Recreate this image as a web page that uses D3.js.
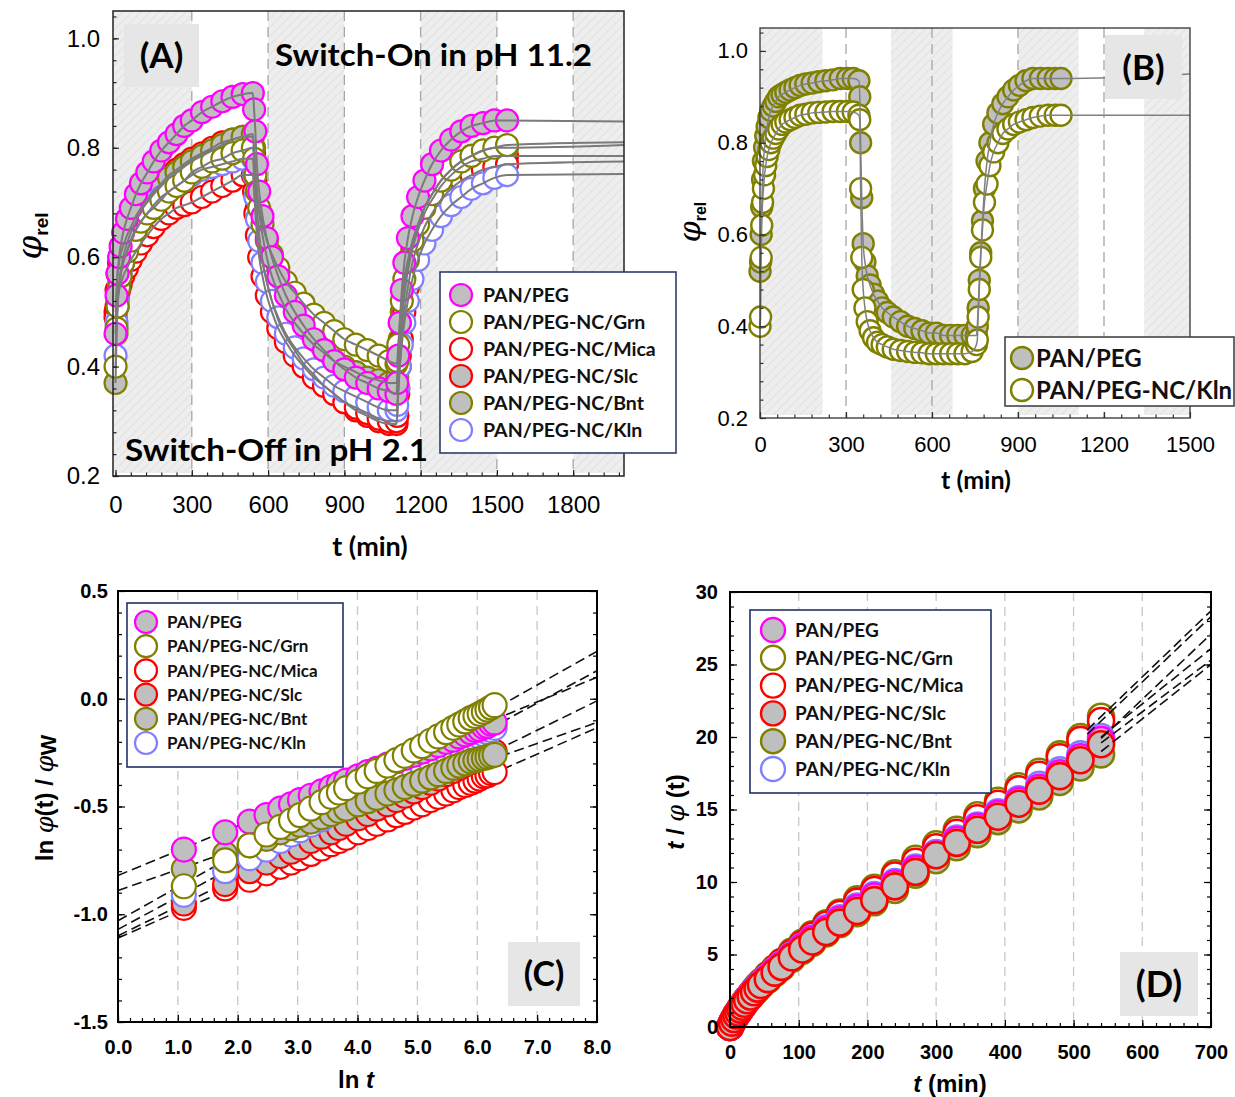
<!DOCTYPE html>
<html>
<head>
<meta charset="utf-8">
<script src="https://cdn.jsdelivr.net/npm/d3@7"></script>
<style>
  body { margin: 0; background: #fff; }
  svg { display: block; }
</style>
</head>
<body>
<script>
// ---------------- data ----------------------------------------------------------
var seriesNames = ["PAN/PEG", "PAN/PEG-NC/Grn", "PAN/PEG-NC/Mica", "PAN/PEG-NC/Slc", "PAN/PEG-NC/Bnt", "PAN/PEG-NC/Kln"];

// (A) relative swelling, on (pH 11.2) -> off (pH 2.1) -> on again, t in min
var tA = [0,4,8,14,20,30,45,60,80,100,125,150,180,210,240,270,300,340,380,420,460,500,540,
  545,550,556,565,578,595,615,640,670,705,740,780,820,860,900,945,990,1035,1075,1105,
  1108,1112,1118,1126,1136,1150,1168,1190,1215,1245,1280,1320,1360,1400,1445,1490,1540];
var phiA_PEG = [0.46,0.53,0.57,0.60,0.62,0.645,0.67,0.69,0.715,0.735,0.755,0.775,0.795,0.81,0.825,0.84,0.85,0.865,0.875,0.885,0.893,0.898,0.90,
  0.87,0.83,0.77,0.72,0.675,0.635,0.60,0.565,0.53,0.50,0.475,0.45,0.43,0.41,0.395,0.38,0.37,0.36,0.355,0.35,
  0.37,0.42,0.48,0.54,0.59,0.635,0.675,0.71,0.74,0.77,0.795,0.815,0.83,0.84,0.845,0.85,0.85];
var phiA_Grn = [0.40,0.47,0.51,0.545,0.565,0.59,0.61,0.63,0.65,0.665,0.68,0.69,0.705,0.72,0.73,0.74,0.755,0.765,0.775,0.78,0.79,0.795,0.80,
  0.78,0.75,0.72,0.69,0.66,0.63,0.605,0.58,0.555,0.535,0.515,0.495,0.48,0.465,0.45,0.44,0.43,0.42,0.41,0.405,
  0.41,0.44,0.48,0.52,0.56,0.595,0.63,0.66,0.69,0.715,0.74,0.76,0.775,0.785,0.795,0.80,0.805];
var phiA_Mica = [0.49,0.51,0.525,0.54,0.55,0.565,0.58,0.595,0.61,0.625,0.64,0.655,0.67,0.68,0.69,0.695,0.70,0.71,0.72,0.73,0.74,0.75,0.75,
  0.72,0.68,0.64,0.60,0.565,0.53,0.50,0.47,0.445,0.42,0.40,0.38,0.365,0.35,0.335,0.325,0.315,0.305,0.30,0.30,
  0.31,0.35,0.40,0.45,0.50,0.545,0.59,0.625,0.655,0.68,0.705,0.725,0.74,0.75,0.76,0.765,0.77];
var phiA_Slc = [0.50,0.54,0.57,0.59,0.605,0.62,0.64,0.655,0.675,0.69,0.705,0.72,0.735,0.75,0.76,0.77,0.78,0.79,0.80,0.81,0.815,0.82,0.82,
  0.79,0.74,0.69,0.64,0.595,0.555,0.52,0.485,0.455,0.43,0.405,0.385,0.365,0.35,0.335,0.32,0.31,0.30,0.295,0.295,
  0.31,0.36,0.42,0.48,0.53,0.575,0.615,0.65,0.68,0.705,0.73,0.75,0.765,0.775,0.78,0.785,0.785];
var phiA_Bnt = [0.37,0.46,0.51,0.55,0.575,0.60,0.625,0.645,0.665,0.685,0.70,0.715,0.73,0.745,0.755,0.765,0.775,0.785,0.795,0.805,0.815,0.82,0.825,
  0.80,0.76,0.72,0.68,0.64,0.60,0.565,0.535,0.505,0.48,0.46,0.44,0.425,0.41,0.40,0.39,0.38,0.375,0.37,0.37,
  0.38,0.41,0.45,0.50,0.545,0.585,0.625,0.66,0.69,0.715,0.74,0.76,0.775,0.785,0.795,0.80,0.80];
var phiA_Kln = [0.42,0.48,0.52,0.55,0.57,0.59,0.61,0.63,0.65,0.665,0.68,0.695,0.71,0.72,0.73,0.74,0.75,0.76,0.765,0.77,0.775,0.78,0.78,
  0.75,0.71,0.67,0.63,0.59,0.555,0.52,0.49,0.46,0.435,0.415,0.395,0.38,0.365,0.355,0.345,0.335,0.325,0.32,0.32,
  0.33,0.36,0.40,0.44,0.48,0.52,0.56,0.595,0.625,0.65,0.675,0.695,0.71,0.725,0.735,0.745,0.75];
var fitEndA = [0.848, 0.81, 0.775, 0.785, 0.805, 0.752];   // fitted plateau at t = 2000
var bandsA = [[-10, 300], [600, 900], [1200, 1500], [1800, 2000]];

// (B) two cycles, PAN/PEG and PAN/PEG-NC/Kln
var tB = [0,2,4,6,9,12,16,20,25,31,38,46,55,65,77,90,105,122,140,160,182,205,230,255,280,305,325,345,
  348,351,355,360,366,374,384,396,410,426,444,465,490,515,540,565,590,615,640,665,690,715,740,755,
  758,761,765,770,776,783,792,802,815,830,847,865,885,905,928,952,978,1005,1030,1050];
var phiB_PEG = [0.52,0.54,0.60,0.66,0.72,0.76,0.79,0.815,0.835,0.855,0.87,0.88,0.89,0.90,0.905,0.91,0.915,0.92,0.925,0.928,0.93,0.933,0.935,0.937,0.94,0.94,0.94,0.935,
  0.90,0.80,0.68,0.58,0.54,0.51,0.49,0.47,0.455,0.44,0.43,0.42,0.41,0.40,0.395,0.39,0.385,0.385,0.38,0.38,0.38,0.38,0.38,0.38,
  0.40,0.44,0.50,0.56,0.63,0.70,0.76,0.80,0.84,0.865,0.885,0.90,0.915,0.925,0.935,0.94,0.94,0.94,0.94,0.94];
var phiB_Kln = [0.40,0.42,0.55,0.62,0.67,0.70,0.73,0.75,0.77,0.785,0.80,0.81,0.82,0.83,0.84,0.845,0.85,0.855,0.86,0.862,0.865,0.866,0.867,0.868,0.868,0.868,0.867,0.86,
  0.85,0.70,0.55,0.48,0.44,0.41,0.39,0.375,0.365,0.36,0.355,0.35,0.347,0.345,0.343,0.342,0.34,0.34,0.34,0.34,0.34,0.34,0.345,0.36,
  0.37,0.42,0.48,0.55,0.61,0.67,0.71,0.75,0.78,0.80,0.82,0.83,0.84,0.845,0.85,0.855,0.858,0.86,0.86,0.86];
var fitEndB = [0.95, 0.86];   // fitted plateau at t = 1500
var bandsB = [[0, 218], [457, 672], [900, 1112], [1340, 1500]];

// (C) ln(phi(t)/phiW) vs ln t
var lnT = [1.10,1.79,2.20,2.48,2.71,2.89,3.04,3.22,3.40,3.56,3.69,3.81,4.01,4.17,4.32,4.50,4.65,4.79,4.94,5.08,5.22,5.35,5.48,5.60,5.70,5.80,5.89,5.97,6.04,6.11,6.17,6.23,6.29];
var lnC_PEG = [-0.70,-0.62,-0.57,-0.54,-0.51,-0.49,-0.47,-0.45,-0.43,-0.41,-0.395,-0.38,-0.36,-0.34,-0.325,-0.305,-0.29,-0.275,-0.26,-0.245,-0.23,-0.215,-0.20,-0.19,-0.175,-0.165,-0.155,-0.145,-0.14,-0.13,-0.125,-0.115,-0.11];
var lnC_Grn = [-0.87,-0.75,-0.68,-0.63,-0.595,-0.565,-0.54,-0.51,-0.48,-0.455,-0.435,-0.415,-0.385,-0.36,-0.335,-0.31,-0.285,-0.265,-0.24,-0.22,-0.195,-0.175,-0.155,-0.135,-0.12,-0.105,-0.09,-0.08,-0.07,-0.06,-0.05,-0.04,-0.03];
var lnC_Mica = [-0.97,-0.88,-0.84,-0.81,-0.78,-0.76,-0.74,-0.72,-0.695,-0.675,-0.66,-0.645,-0.62,-0.60,-0.58,-0.56,-0.54,-0.525,-0.505,-0.49,-0.47,-0.455,-0.44,-0.425,-0.41,-0.40,-0.39,-0.38,-0.37,-0.36,-0.355,-0.345,-0.34];
var lnC_Slc = [-0.95,-0.86,-0.80,-0.76,-0.73,-0.71,-0.69,-0.66,-0.64,-0.62,-0.60,-0.58,-0.555,-0.535,-0.51,-0.49,-0.47,-0.45,-0.43,-0.41,-0.39,-0.37,-0.35,-0.335,-0.32,-0.305,-0.295,-0.285,-0.275,-0.265,-0.26,-0.25,-0.245];
var lnC_Bnt = [-0.79,-0.72,-0.68,-0.65,-0.62,-0.60,-0.585,-0.57,-0.55,-0.535,-0.52,-0.51,-0.49,-0.475,-0.46,-0.44,-0.425,-0.41,-0.395,-0.38,-0.365,-0.35,-0.335,-0.32,-0.31,-0.30,-0.29,-0.285,-0.28,-0.275,-0.27,-0.265,-0.26];
var lnC_Kln = [-0.91,-0.80,-0.74,-0.70,-0.66,-0.63,-0.61,-0.585,-0.56,-0.535,-0.515,-0.50,-0.47,-0.445,-0.42,-0.395,-0.37,-0.35,-0.33,-0.31,-0.29,-0.27,-0.25,-0.235,-0.22,-0.205,-0.195,-0.185,-0.175,-0.165,-0.155,-0.145,-0.135];
var fitC_at0 = [-0.82, -1.03, -1.11, -1.10, -0.89, -1.07];   // dashed fits at ln t = 0
var fitC_at8 = [0.10, 0.22, -0.135, -0.01, -0.11, 0.13];     // ... and at ln t = 8

// (D) t/phi(t) vs t
var tD = [0,3,6,9,12,15,18,21,25,30,35,40,45,55,65,75,90,105,120,140,160,185,210,240,270,300,330,360,390,420,450,480,510,540];
var tpD_PEG = [0,0.3,0.55,0.8,1.0,1.2,1.4,1.6,1.85,2.15,2.45,2.7,2.95,3.4,3.85,4.25,4.9,5.5,6.05,6.7,7.4,8.2,9.0,9.9,10.9,11.9,12.9,13.8,14.7,15.6,16.5,17.5,18.6,19.8];
var tpD_Grn = [0,0.3,0.6,0.85,1.05,1.3,1.5,1.7,1.95,2.25,2.55,2.85,3.1,3.6,4.05,4.5,5.2,5.8,6.4,7.15,7.9,8.8,9.6,10.6,11.6,12.6,13.6,14.6,15.6,16.6,17.6,18.8,20.0,21.4];
var tpD_Mica = [0,0.3,0.6,0.85,1.05,1.3,1.5,1.7,1.95,2.25,2.55,2.8,3.05,3.55,4.0,4.45,5.1,5.7,6.3,7.05,7.8,8.65,9.45,10.45,11.4,12.4,13.4,14.4,15.4,16.4,17.4,18.6,19.8,21.1];
var tpD_Slc = [0,0.3,0.55,0.8,1.0,1.2,1.4,1.6,1.85,2.1,2.4,2.65,2.9,3.3,3.75,4.15,4.8,5.35,5.9,6.55,7.2,8.0,8.75,9.7,10.7,11.85,12.7,13.6,14.5,15.4,16.3,17.3,18.4,19.5];
var tpD_Bnt = [0,0.3,0.55,0.8,1.0,1.2,1.4,1.6,1.85,2.1,2.35,2.6,2.85,3.25,3.7,4.1,4.7,5.25,5.8,6.45,7.1,7.85,8.6,9.45,10.5,11.5,12.4,13.3,14.2,15.0,15.9,16.9,17.9,18.8];
var tpD_Kln = [0,0.3,0.55,0.8,1.0,1.25,1.45,1.65,1.9,2.2,2.5,2.75,3.0,3.45,3.9,4.3,4.95,5.55,6.1,6.8,7.5,8.3,9.1,10.0,11.0,12.0,13.0,13.9,14.8,15.7,16.7,17.7,18.8,20.0];
var fitD_t0 = [540, 520, 520, 540, 540, 540];          // where each dashed fit starts
var fitD_v0 = [19.9, 20.5, 20.2, 19.6, 19.0, 20.0];
var fitD_v700 = [27.1, 28.7, 28.3, 25.3, 25.0, 26.1];  // fit value at t = 700

// ---------------- styles --------------------------------------------------------
var GRAY = "#bfbfbf", OLIVE = "#808000";
var styles = {
  "PAN/PEG": { stroke: "#ff00ff", fill: GRAY },
  "PAN/PEG-NC/Grn": { stroke: OLIVE, fill: "#ffffff" },
  "PAN/PEG-NC/Mica": { stroke: "#ff0000", fill: "#ffffff" },
  "PAN/PEG-NC/Slc": { stroke: "#ff0000", fill: GRAY },
  "PAN/PEG-NC/Bnt": { stroke: OLIVE, fill: GRAY },
  "PAN/PEG-NC/Kln": { stroke: "#8080ff", fill: "#ffffff" }
};
var stylesB = [{ stroke: OLIVE, fill: GRAY }, { stroke: OLIVE, fill: "#ffffff" }];
var CAL = "Lato, 'Open Sans', sans-serif";
var ARI = "'Liberation Sans', Arial, sans-serif";

var svg = d3.select("body").append("svg").attr("width", 1235).attr("height", 1097);

// hatched light-gray band fill
var pat = svg.append("defs").append("pattern").attr("id", "hatch")
  .attr("patternUnits", "userSpaceOnUse").attr("width", 9).attr("height", 9);
pat.append("rect").attr("width", 9).attr("height", 9).attr("fill", "#eeeeee");
pat.append("path").attr("d", "M0,9 L9,0 M-2,2 L2,-2 M7,11 L11,7")
  .attr("stroke", "#e3e3e3").attr("stroke-width", 1.2);

// ---------------- helpers -------------------------------------------------------
function bands(x, y, list) {
  svg.append("g").selectAll("rect").data(list).join("rect")
    .attr("x", function(d) { return x(d[0]); })
    .attr("width", function(d) { return x(d[1]) - x(d[0]); })
    .attr("y", y.range()[1]).attr("height", y.range()[0] - y.range()[1] - 3)
    .attr("fill", "url(#hatch)");
}

function vgrid(x, y, vals, color, dash) {
  svg.append("g").selectAll("line").data(vals).join("line")
    .attr("x1", function(d) { return x(d); }).attr("x2", function(d) { return x(d); })
    .attr("y1", y.range()[1]).attr("y2", y.range()[0])
    .attr("stroke", color).attr("stroke-width", 1.3).attr("stroke-dasharray", dash);
}

function axes(x, y, o) {
  var bottom = y.range()[0], top = y.range()[1];
  var left = x.range()[0], right = x.range()[1];
  function style(g) {
    g.select(".domain").remove();
    g.selectAll("line").attr("stroke", o.color).attr("stroke-width", 1.2);
    g.selectAll("text").attr("font-family", ARI).attr("font-size", o.fs)
      .attr("font-weight", o.bold ? "bold" : "normal").attr("fill", "#000");
  }
  svg.append("g").attr("transform", "translate(0," + bottom + ")")
    .call(d3.axisBottom(x).tickValues(o.xMinor).tickSize(-o.minor).tickFormat("")).call(style);
  svg.append("g").attr("transform", "translate(0," + bottom + ")")
    .call(d3.axisBottom(x).tickValues(o.xTicks).tickSize(-o.major).tickPadding(o.xPad).tickFormat(o.xFmt)).call(style);
  svg.append("g").attr("transform", "translate(" + left + ",0)")
    .call(d3.axisLeft(y).tickValues(o.yMinor).tickSize(-o.minor).tickFormat("")).call(style);
  svg.append("g").attr("transform", "translate(" + left + ",0)")
    .call(d3.axisLeft(y).tickValues(o.yTicks).tickSize(-o.major).tickPadding(o.yPad).tickFormat(o.yFmt)).call(style);
  if (o.right) {
    svg.append("g").attr("transform", "translate(" + right + ",0)")
      .call(d3.axisRight(y).tickValues(o.yMinor).tickSize(-o.minor).tickFormat("")).call(style);
    svg.append("g").attr("transform", "translate(" + right + ",0)")
      .call(d3.axisRight(y).tickValues(o.yTicks).tickSize(-o.major).tickFormat("")).call(style);
  }
  svg.append("rect").attr("x", left).attr("y", top).attr("width", right - left).attr("height", bottom - top)
    .attr("fill", "none").attr("stroke", o.color).attr("stroke-width", o.frameW);
}

function dots(x, y, xs, ys, st, r, sw) {
  svg.append("g").selectAll("circle").data(xs.map(function(v, i) { return [v, ys[i]]; })).join("circle")
    .attr("cx", function(d) { return x(d[0]); })
    .attr("cy", function(d) { return y(d[1]); })
    .attr("r", r).attr("fill", st.fill).attr("stroke", st.stroke).attr("stroke-width", sw);
}

function fitPath(x, y, pts, color, w, dash) {
  svg.append("path").datum(pts)
    .attr("d", d3.line().x(function(d) { return x(d[0]); }).y(function(d) { return y(d[1]); }).curve(d3.curveMonotoneX))
    .attr("fill", "none").attr("stroke", color).attr("stroke-width", w)
    .attr("stroke-dasharray", dash || null);
}

function legend(o) {
  var g = svg.append("g");
  g.append("rect").attr("x", o.x).attr("y", o.y).attr("width", o.w).attr("height", o.h)
    .attr("fill", "#fff").attr("stroke", o.border).attr("stroke-width", 1.6);
  o.names.forEach(function(nm, i) {
    var cy = o.row0 + i * o.dy;
    g.append("circle").attr("cx", o.mx).attr("cy", cy).attr("r", o.r)
      .attr("fill", o.st[i].fill).attr("stroke", o.st[i].stroke).attr("stroke-width", o.sw);
    g.append("text").attr("x", o.tx).attr("y", cy).attr("dy", "0.36em").text(nm)
      .attr("font-family", CAL).attr("font-weight", "bold").attr("font-size", o.fs).attr("fill", "#111");
  });
}

function tag(label, x, y, w, h, fs) {
  svg.append("rect").attr("x", x).attr("y", y).attr("width", w).attr("height", h).attr("fill", "#e6e6e6");
  svg.append("text").attr("x", x + w / 2).attr("y", y + h / 2).attr("dy", "0.36em")
    .attr("text-anchor", "middle").attr("font-family", CAL).attr("font-weight", "bold")
    .attr("font-size", fs).text(label);
}

function phiRel(x, y, fs, sub) {
  var t = svg.append("text").attr("transform", "translate(" + x + "," + y + ") rotate(-90)")
    .attr("text-anchor", "middle");
  t.append("tspan").text("\u03C6").attr("font-family", "'DejaVu Serif', serif").attr("font-style", "italic").attr("font-size", fs);
  t.append("tspan").text("rel").attr("font-family", ARI).attr("font-weight", "bold").attr("font-size", sub).attr("dy", sub * 0.35);
}

var fmt1 = function(d) { return d.toFixed(1); };

// ================= (A) ==========================================================
var xA = d3.scaleLinear().domain([-10, 2000]).range([113, 624]);
var yA = d3.scaleLinear().domain([0.2, 1.05]).range([476, 11]);
bands(xA, yA, bandsA);
vgrid(xA, yA, [300, 600, 900, 1200, 1500, 1800], "#a6a6a6", "10,6");

var dataA = [phiA_PEG, phiA_Grn, phiA_Mica, phiA_Slc, phiA_Bnt, phiA_Kln];
[3, 4, 2, 5, 1, 0].forEach(function(i) {
  dots(xA, yA, tA, dataA[i], styles[seriesNames[i]], 11, 2.2);
});
[3, 4, 2, 5, 1, 0].forEach(function(i) {
  var pts = tA.map(function(t, k) { return [t, dataA[i][k]]; }).concat([[2000, fitEndA[i]]]);
  fitPath(xA, yA, pts, "#7a7a7a", 2);
});
axes(xA, yA, {
  xTicks: [0, 300, 600, 900, 1200, 1500, 1800], xMinor: d3.range(0, 2000, 60),
  yTicks: [0.2, 0.4, 0.6, 0.8, 1.0], yMinor: d3.range(0.2, 1.05, 0.04),
  major: 6, minor: 3.5, xPad: 20, yPad: 13, fs: 24, bold: false,
  xFmt: d3.format("d"), yFmt: fmt1, color: "#222", frameW: 1.5, right: false
});
tag("(A)", 124, 24, 75, 63, 35);
svg.append("text").attr("x", 275).attr("y", 66).attr("font-family", CAL).attr("font-weight", "bold")
  .attr("font-size", 31).attr("textLength", 317).attr("lengthAdjust", "spacingAndGlyphs").text("Switch-On in pH 11.2");
svg.append("text").attr("x", 125).attr("y", 461).attr("font-family", CAL).attr("font-weight", "bold")
  .attr("font-size", 31).attr("textLength", 303).attr("lengthAdjust", "spacingAndGlyphs").text("Switch-Off in pH 2.1");
legend({ x: 440, y: 272, w: 236, h: 181, border: "#2e3c6e", names: seriesNames,
  st: seriesNames.map(function(n) { return styles[n]; }), row0: 295, dy: 27, mx: 461, r: 11, sw: 2.2, tx: 483, fs: 19.5 });
svg.append("text").attr("x", 370).attr("y", 556).attr("text-anchor", "middle").attr("font-family", CAL)
  .attr("font-weight", "bold").attr("font-size", 27).text("t (min)");
phiRel(41, 236, 34, 19);

// ================= (B) ==========================================================
var xB = d3.scaleLinear().domain([0, 1500]).range([760, 1190]);
var yB = d3.scaleLinear().domain([0.2, 1.05]).range([418, 28]);
bands(xB, yB, bandsB);
vgrid(xB, yB, [300, 600, 900, 1200], "#a6a6a6", "10,6");
var dataB = [phiB_PEG, phiB_Kln];
dataB.forEach(function(vals, i) { dots(xB, yB, tB, vals, stylesB[i], 10.5, 2.4); });
dataB.forEach(function(vals, i) {
  var pts = tB.map(function(t, k) { return [t, vals[k]]; }).concat([[1500, fitEndB[i]]]);
  fitPath(xB, yB, pts, "#808080", 1.5);
});
axes(xB, yB, {
  xTicks: [0, 300, 600, 900, 1200, 1500], xMinor: d3.range(0, 1500, 60),
  yTicks: [0.2, 0.4, 0.6, 0.8, 1.0], yMinor: d3.range(0.2, 1.05, 0.04),
  major: 6, minor: 3.5, xPad: 18, yPad: 12, fs: 22, bold: false,
  xFmt: d3.format("d"), yFmt: fmt1, color: "#333", frameW: 1.3, right: false
});
tag("(B)", 1105, 35, 77, 64, 35);
legend({ x: 1005, y: 337, w: 229, h: 69, border: "#444", names: ["PAN/PEG", "PAN/PEG-NC/Kln"],
  st: stylesB, row0: 358, dy: 32, mx: 1022, r: 11, sw: 2.4, tx: 1036, fs: 24 });
svg.append("text").attr("x", 976).attr("y", 489).attr("text-anchor", "middle").attr("font-family", CAL)
  .attr("font-weight", "bold").attr("font-size", 25).text("t (min)");
phiRel(700, 222, 30, 16);

// ================= (C) ==========================================================
var xC = d3.scaleLinear().domain([0, 8]).range([118, 597]);
var yC = d3.scaleLinear().domain([-1.5, 0.5]).range([1022, 591]);
vgrid(xC, yC, [1, 2, 3, 4, 5, 6, 7], "#c8c8c8", "9,6");
var dataC = [lnC_PEG, lnC_Grn, lnC_Mica, lnC_Slc, lnC_Bnt, lnC_Kln];
dataC.forEach(function(vals, i) {
  fitPath(xC, yC, [[0, fitC_at0[i]], [8, fitC_at8[i]]], "#111", 1.6, "10,5");
});
[2, 3, 5, 4, 0, 1].forEach(function(i) {
  dots(xC, yC, lnT, dataC[i], styles[seriesNames[i]], 12, 2.2);
});
axes(xC, yC, {
  xTicks: [0, 1, 2, 3, 4, 5, 6, 7, 8], xMinor: d3.range(0, 8, 0.2),
  yTicks: [-1.5, -1.0, -0.5, 0.0, 0.5], yMinor: d3.range(-1.5, 0.5, 0.1),
  major: 7, minor: 4, xPad: 18, yPad: 10, fs: 20, bold: true,
  xFmt: fmt1, yFmt: fmt1, color: "#000", frameW: 2, right: true
});
tag("(C)", 508, 942, 72, 64, 34);
legend({ x: 127, y: 603, w: 216, h: 164, border: "#1f3264", names: seriesNames,
  st: seriesNames.map(function(n) { return styles[n]; }), row0: 622, dy: 24.2, mx: 146, r: 11, sw: 2.2, tx: 167, fs: 17 });
var cx = svg.append("text").attr("x", 356).attr("y", 1088).attr("text-anchor", "middle")
  .attr("font-family", ARI).attr("font-weight", "bold").attr("font-size", 24);
cx.append("tspan").text("ln ");
cx.append("tspan").text("t").attr("font-style", "italic");
var cy = svg.append("text").attr("transform", "translate(53,798) rotate(-90)").attr("text-anchor", "middle")
  .attr("font-family", ARI).attr("font-weight", "bold").attr("font-size", 24);
cy.append("tspan").text("ln ");
cy.append("tspan").text("\u03C6").attr("font-family", "'DejaVu Serif', serif").attr("font-weight", "normal").attr("font-style", "italic");
cy.append("tspan").text("(t) / ");
cy.append("tspan").text("\u03C6").attr("font-family", "'DejaVu Serif', serif").attr("font-weight", "normal").attr("font-style", "italic");
cy.append("tspan").text("W").attr("font-size", 22).attr("dy", 3);

// ================= (D) ==========================================================
var xD = d3.scaleLinear().domain([0, 700]).range([730, 1211]);
var yD = d3.scaleLinear().domain([0, 30]).range([1027, 592]);
vgrid(xD, yD, [100, 200, 300, 400, 500, 600], "#c8c8c8", "9,6");
var dataD = [tpD_PEG, tpD_Grn, tpD_Mica, tpD_Slc, tpD_Bnt, tpD_Kln];
[1, 2, 4, 5, 0, 3].forEach(function(i) {
  dots(xD, yD, tD, dataD[i], styles[seriesNames[i]], 13, 2.6);
});
dataD.forEach(function(vals, i) {
  fitPath(xD, yD, [[fitD_t0[i], fitD_v0[i]], [700, fitD_v700[i]]], "#111", 1.6, "10,5");
});
axes(xD, yD, {
  xTicks: [0, 100, 200, 300, 400, 500, 600, 700], xMinor: d3.range(0, 700, 20),
  yTicks: [0, 5, 10, 15, 20, 25, 30], yMinor: d3.range(0, 30, 1),
  major: 7, minor: 4, xPad: 18, yPad: 12, fs: 20, bold: true,
  xFmt: d3.format("d"), yFmt: d3.format("d"), color: "#000", frameW: 2, right: true
});
tag("(D)", 1120, 952, 78, 64, 36);
legend({ x: 750, y: 610, w: 241, h: 183, border: "#1f3264", names: seriesNames,
  st: seriesNames.map(function(n) { return styles[n]; }), row0: 630, dy: 27.8, mx: 773, r: 12, sw: 2.4, tx: 795, fs: 19 });
var dx = svg.append("text").attr("x", 950).attr("y", 1092).attr("text-anchor", "middle")
  .attr("font-family", ARI).attr("font-weight", "bold").attr("font-size", 24);
dx.append("tspan").text("t").attr("font-style", "italic");
dx.append("tspan").text(" (min)");
var dy = svg.append("text").attr("transform", "translate(684,812) rotate(-90)").attr("text-anchor", "middle")
  .attr("font-family", ARI).attr("font-weight", "bold").attr("font-size", 24);
dy.append("tspan").text("t").attr("font-style", "italic");
dy.append("tspan").text(" / ");
dy.append("tspan").text("\u03C6").attr("font-family", "'DejaVu Serif', serif").attr("font-weight", "normal").attr("font-style", "italic");
dy.append("tspan").text(" (t)");
</script>
</body>
</html>
